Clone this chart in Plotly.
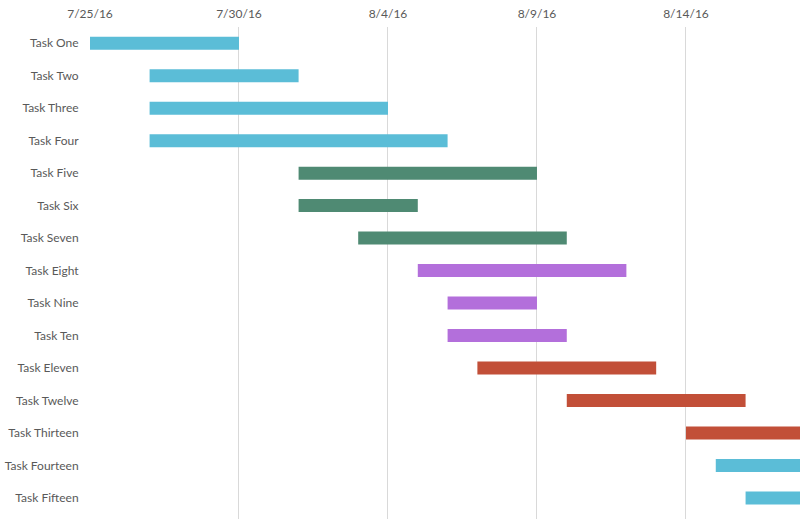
import plotly.graph_objects as go
import pandas as pd

tasks = ["Task One", "Task Two", "Task Three", "Task Four", "Task Five", "Task Six",
         "Task Seven", "Task Eight", "Task Nine", "Task Ten", "Task Eleven",
         "Task Twelve", "Task Thirteen", "Task Fourteen", "Task Fifteen"]
starts = ["2016-07-25", "2016-07-27", "2016-07-27", "2016-07-27", "2016-08-01", "2016-08-01",
          "2016-08-03", "2016-08-05", "2016-08-06", "2016-08-06", "2016-08-07",
          "2016-08-10", "2016-08-14", "2016-08-15", "2016-08-16"]
ends = ["2016-07-30", "2016-08-01", "2016-08-04", "2016-08-06", "2016-08-09", "2016-08-05",
        "2016-08-10", "2016-08-12", "2016-08-09", "2016-08-10", "2016-08-13",
        "2016-08-16", "2016-08-19", "2016-08-20", "2016-08-21"]
groups = ["A", "A", "A", "A", "B", "B", "B", "C", "C", "C", "D", "D", "D", "A", "A"]
group_colors = {"A": "#5bbdd7", "B": "#4f8a73", "C": "#b36fdb", "D": "#c24f38"}
tick_dates = ["2016-07-25", "2016-07-30", "2016-08-04", "2016-08-09", "2016-08-14"]
tick_labels = ["7/25/16", "7/30/16", "8/4/16", "8/9/16", "8/14/16"]

s = pd.to_datetime(starts)
e = pd.to_datetime(ends)
dur_ms = [(b - a).total_seconds() * 1000 for a, b in zip(s, e)]

fig = go.Figure(go.Bar(
    y=tasks, x=dur_ms, base=starts, orientation="h",
    marker=dict(color=[group_colors[g] for g in groups], line=dict(width=0)),
    width=0.4, hoverinfo="skip",
))

fig.update_layout(
    width=800, height=519,
    margin=dict(l=90, r=0, t=27, b=0),
    paper_bgcolor="white", plot_bgcolor="white",
    showlegend=False,
    font=dict(family="Lato, 'Open Sans', sans-serif", size=12, color="#595959"),
    xaxis=dict(
        type="date", side="top",
        range=["2016-07-25", "2016-08-17 19:50"],
        tickvals=tick_dates, ticktext=tick_labels,
        showgrid=True, gridcolor="#d9d9d9", gridwidth=1,
        zeroline=False, showline=False, ticks="",
        ticklabelstandoff=6,
        tickfont=dict(size=12, color="#595959"),
    ),
    yaxis=dict(
        categoryorder="array", categoryarray=tasks,
        range=[14.65, -0.5], autorange=False,
        showgrid=False, zeroline=False, showline=False,
        ticks="outside", ticklen=8, tickcolor="rgba(0,0,0,0)",
        tickfont=dict(size=12, color="#595959"),
    ),
)

fig.write_html("out.html")
